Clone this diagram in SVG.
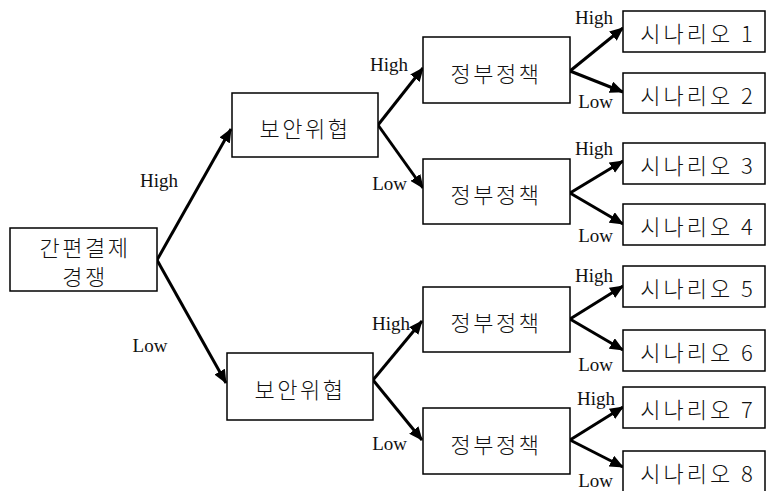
<svg xmlns="http://www.w3.org/2000/svg" width="766" height="491" viewBox="0 0 766 491">
<style>
.box{fill:#fff;stroke:#000;stroke-width:1.5}
.kt{font-family:"Noto Sans CJK KR","Noto Sans",sans-serif;font-size:22px;font-weight:300;fill:#111;text-anchor:middle;dominant-baseline:central;letter-spacing:2.5px}
.st{letter-spacing:3px}
.lb{font-family:"Liberation Serif","Times New Roman",serif;font-size:19px;fill:#111}
.r{text-anchor:end}
.m{text-anchor:middle}
.c{fill:none;stroke:#000;stroke-width:3}
</style>
<defs>
<marker id="ah" markerUnits="userSpaceOnUse" markerWidth="14" markerHeight="12" refX="13" refY="6" orient="auto">
<path d="M0,0 L14,6 L0,12 z" fill="#000"/>
</marker>
</defs>
<rect width="766" height="491" fill="#fff"/>
<g id="connectors">
<path class="c" d="M157,260 L231,129" marker-end="url(#ah)"/>
<path class="c" d="M157,260 L226,383" marker-end="url(#ah)"/>
<path class="c" d="M378,125 L423,68" marker-end="url(#ah)"/>
<path class="c" d="M378,125 L423,188" marker-end="url(#ah)"/>
<path class="c" d="M373,380 L422,321" marker-end="url(#ah)"/>
<path class="c" d="M373,380 L422,440" marker-end="url(#ah)"/>
<path class="c" d="M570,71 L623,28" marker-end="url(#ah)"/>
<path class="c" d="M570,71 L623,92" marker-end="url(#ah)"/>
<path class="c" d="M570,193 L623,161" marker-end="url(#ah)"/>
<path class="c" d="M570,193 L623,224" marker-end="url(#ah)"/>
<path class="c" d="M570,319 L623,286" marker-end="url(#ah)"/>
<path class="c" d="M570,319 L623,350" marker-end="url(#ah)"/>
<path class="c" d="M570,440 L623,407" marker-end="url(#ah)"/>
<path class="c" d="M570,440 L623,467" marker-end="url(#ah)"/>
</g>
<g id="labels">
<text class="lb m" x="159" y="187">High</text>
<text class="lb m" x="150" y="352">Low</text>
<text class="lb r" x="408" y="71">High</text>
<text class="lb r" x="407" y="190">Low</text>
<text class="lb r" x="410" y="330">High</text>
<text class="lb r" x="407" y="450">Low</text>
<text class="lb r" x="613" y="24">High</text>
<text class="lb r" x="613" y="108">Low</text>
<text class="lb r" x="613" y="155">High</text>
<text class="lb r" x="613" y="242">Low</text>
<text class="lb r" x="613" y="282">High</text>
<text class="lb r" x="613" y="371">Low</text>
<text class="lb r" x="615" y="405">High</text>
<text class="lb r" x="613" y="487">Low</text>
</g>
<g id="root">
<rect class="box" x="10" y="228" width="147" height="63"/>
<text class="kt" x="85" y="246">간편결제</text>
<text class="kt" x="85" y="275">경쟁</text>
</g>
<g id="security1">
<rect class="box" x="232" y="93" width="146" height="64"/>
<text class="kt" x="305" y="127">보안위협</text>
</g>
<g id="security2">
<rect class="box" x="227" y="353" width="146" height="67"/>
<text class="kt" x="300" y="388">보안위협</text>
</g>
<g id="policy1">
<rect class="box" x="423" y="37" width="147" height="66"/>
<text class="kt" x="496" y="72">정부정책</text>
</g>
<g id="policy2">
<rect class="box" x="423" y="159" width="147" height="65"/>
<text class="kt" x="496" y="193">정부정책</text>
</g>
<g id="policy3">
<rect class="box" x="423" y="287" width="147" height="65"/>
<text class="kt" x="496" y="321">정부정책</text>
</g>
<g id="policy4">
<rect class="box" x="423" y="408" width="147" height="66"/>
<text class="kt" x="496" y="443">정부정책</text>
</g>
<g id="scenario1"><rect class="box" x="623" y="11" width="142" height="41"/><text class="kt st" x="698" y="32">시나리오 1</text></g>
<g id="scenario2"><rect class="box" x="623" y="73" width="142" height="40"/><text class="kt st" x="698" y="94">시나리오 2</text></g>
<g id="scenario3"><rect class="box" x="623" y="143" width="142" height="41"/><text class="kt st" x="698" y="164">시나리오 3</text></g>
<g id="scenario4"><rect class="box" x="623" y="204" width="142" height="41"/><text class="kt st" x="698" y="225">시나리오 4</text></g>
<g id="scenario5"><rect class="box" x="623" y="266" width="142" height="41"/><text class="kt st" x="698" y="287">시나리오 5</text></g>
<g id="scenario6"><rect class="box" x="623" y="330" width="142" height="41"/><text class="kt st" x="698" y="351">시나리오 6</text></g>
<g id="scenario7"><rect class="box" x="623" y="387" width="142" height="41"/><text class="kt st" x="698" y="408">시나리오 7</text></g>
<g id="scenario8"><rect class="box" x="623" y="451" width="142" height="41"/><text class="kt st" x="698" y="472">시나리오 8</text></g>
</svg>
